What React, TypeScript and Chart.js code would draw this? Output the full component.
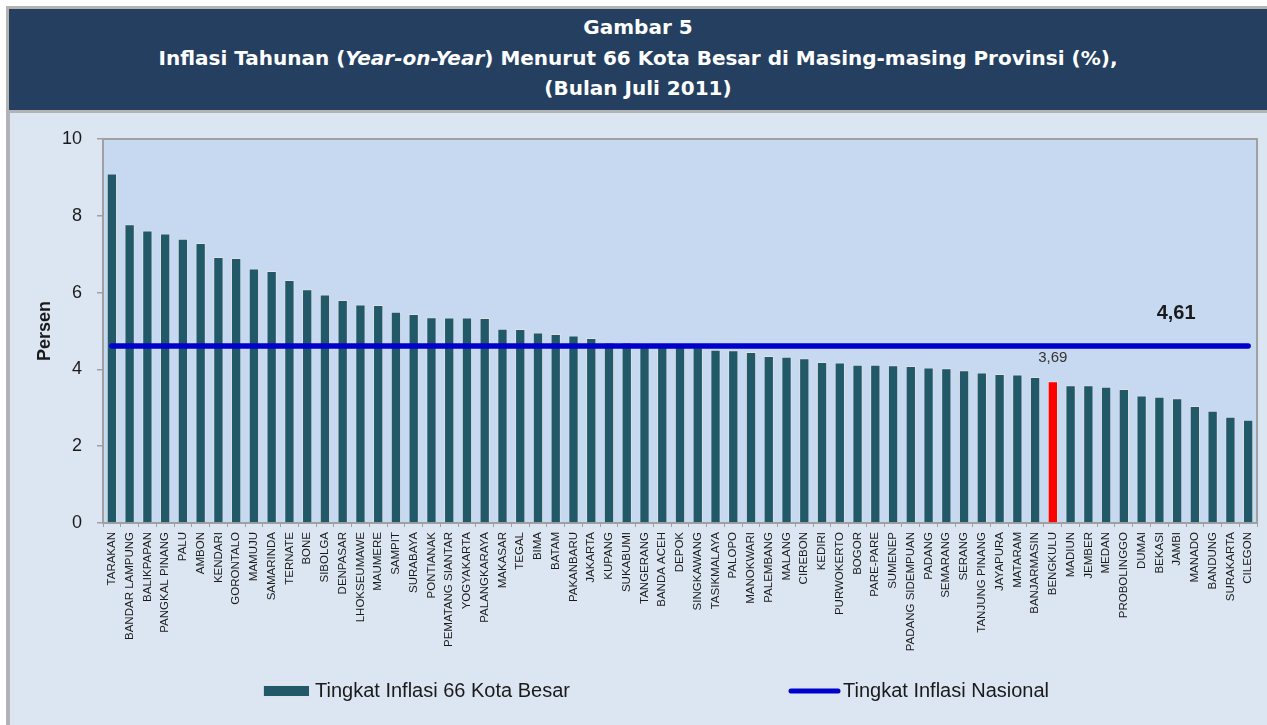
import React, { useEffect, useRef } from 'react';
import { Chart, registerables } from 'chart.js';

Chart.register(...registerables);

// ---------------- DATA ----------------
const cities: string[] = [
  'TARAKAN', 'BANDAR LAMPUNG', 'BALIKPAPAN', 'PANGKAL PINANG', 'PALU', 'AMBON', 'KENDARI',
  'GORONTALO', 'MAMUJU', 'SAMARINDA', 'TERNATE', 'BONE', 'SIBOLGA', 'DENPASAR', 'LHOKSEUMAWE',
  'MAUMERE', 'SAMPIT', 'SURABAYA', 'PONTIANAK', 'PEMATANG SIANTAR', 'YOGYAKARTA', 'PALANGKARAYA',
  'MAKASAR', 'TEGAL', 'BIMA', 'BATAM', 'PAKANBARU', 'JAKARTA', 'KUPANG', 'SUKABUMI', 'TANGERANG',
  'BANDA ACEH', 'DEPOK', 'SINGKAWANG', 'TASIKMALAYA', 'PALOPO', 'MANOKWARI', 'PALEMBANG', 'MALANG',
  'CIREBON', 'KEDIRI', 'PURWOKERTO', 'BOGOR', 'PARE-PARE', 'SUMENEP', 'PADANG SIDEMPUAN', 'PADANG',
  'SEMARANG', 'SERANG', 'TANJUNG PINANG', 'JAYAPURA', 'MATARAM', 'BANJARMASIN', 'BENGKULU', 'MADIUN',
  'JEMBER', 'MEDAN', 'PROBOLINGGO', 'DUMAI', 'BEKASI', 'JAMBI', 'MANADO', 'BANDUNG', 'SURAKARTA',
  'CILEGON',
];

const inflation: number[] = [
  9.10, 7.78, 7.62, 7.54, 7.40, 7.29, 6.93,
  6.90, 6.63, 6.56, 6.33, 6.09, 5.95, 5.81, 5.69,
  5.68, 5.50, 5.44, 5.36, 5.35, 5.35, 5.34,
  5.06, 5.05, 4.96, 4.92, 4.88, 4.82, 4.70, 4.70, 4.68,
  4.64, 4.61, 4.58, 4.51, 4.50, 4.45, 4.35, 4.33,
  4.29, 4.19, 4.18, 4.12, 4.12, 4.11, 4.09, 4.05,
  4.03, 3.98, 3.92, 3.88, 3.87, 3.80, 3.69, 3.59,
  3.59, 3.55, 3.49, 3.32, 3.29, 3.25, 3.05, 2.92, 2.77,
  2.69,
];

const highlightCity = 'BENGKULU';
const highlightLabel = '3,69';
const nationalRate = 4.61;
const nationalLabel = '4,61';
const yTickValues: number[] = [0, 2, 4, 6, 8, 10];
const yAxisTitle = 'Persen';
const legendLabels: string[] = ['Tingkat Inflasi 66 Kota Besar', 'Tingkat Inflasi Nasional'];
const titleLine1 = 'Gambar 5';
const titleLine2a = 'Inflasi Tahunan (';
const titleLine2i = 'Year-on-Year)';
const titleLine2b = ' Menurut 66 Kota Besar di Masing-masing Provinsi (%),';
const titleLine3 = '(Bulan Juli 2011)';

// ---------------- STYLE ----------------
const BAR_COLOR = '#215968';
const HIGHLIGHT_COLOR = '#ff0000';
const LINE_COLOR = '#0000cc';
const PLOT_BG = '#c6d9f0';
const OUTER_BG = '#dce6f2';
const FRAME_GRAY = '#b3b3b3';
const NAVY = '#243f60';
const FONT = '"Liberation Sans", Arial, Helvetica, sans-serif';

const decorPlugin = {
  id: 'decor',
  beforeDatasetsDraw(chart: any) {
    const { ctx, chartArea: a } = chart;
    ctx.save();
    ctx.fillStyle = PLOT_BG;
    ctx.fillRect(a.left, a.top, a.right - a.left, a.bottom - a.top);
    ctx.strokeStyle = '#a0a0a0';
    ctx.lineWidth = 2;
    ctx.strokeRect(a.left, a.top, a.right - a.left, a.bottom - a.top);
    ctx.restore();
  },
  afterDatasetsDraw(chart: any) {
    const { ctx } = chart;
    const xs = chart.scales.x;
    const ys = chart.scales.y;
    ctx.save();
    const hi = cities.indexOf(highlightCity);
    ctx.font = `15px ${FONT}`;
    ctx.fillStyle = '#333333';
    ctx.textAlign = 'center';
    ctx.textBaseline = 'middle';
    ctx.fillText(highlightLabel, xs.getPixelForValue(hi), ys.getPixelForValue(inflation[hi]) - 23);
    ctx.font = `bold 20px ${FONT}`;
    ctx.fillStyle = '#1a1a1a';
    ctx.fillText(nationalLabel, xs.getPixelForValue(cities.length - 1) - 72, ys.getPixelForValue(nationalRate) - 32);
    ctx.restore();
  },
  afterDraw(chart: any) {
    const { ctx } = chart;
    const ly = 578;
    ctx.save();
    ctx.fillStyle = BAR_COLOR;
    ctx.fillRect(253, ly - 5, 46, 10);
    ctx.strokeStyle = 'rgba(225,225,225,0.9)';
    ctx.lineWidth = 1;
    ctx.strokeRect(253.5, ly - 5.5, 46, 11);
    ctx.font = `20px ${FONT}`;
    ctx.fillStyle = '#1a1a1a';
    ctx.textAlign = 'left';
    ctx.textBaseline = 'middle';
    ctx.fillText(legendLabels[0], 305, ly);
    ctx.strokeStyle = LINE_COLOR;
    ctx.lineWidth = 5;
    ctx.lineCap = 'round';
    ctx.beginPath();
    ctx.moveTo(781, ly);
    ctx.lineTo(828, ly);
    ctx.stroke();
    ctx.fillText(legendLabels[1], 833, ly);
    ctx.restore();
  },
};

function ChartCanvas() {
  const ref = useRef<HTMLCanvasElement | null>(null);
  useEffect(() => {
    if (!ref.current) return;
    const chart = new Chart(ref.current, {
      type: 'bar',
      data: {
        labels: cities,
        datasets: [
          {
            type: 'line',
            label: legendLabels[1],
            data: [
              { x: cities[0], y: nationalRate },
              { x: cities[cities.length - 1], y: nationalRate },
            ] as any,
            borderColor: LINE_COLOR,
            borderWidth: 5.5,
            borderCapStyle: 'round',
            pointRadius: 0,
            fill: false,
            order: 0,
          } as any,
          {
            type: 'bar',
            label: legendLabels[0],
            data: inflation,
            backgroundColor: cities.map((c) => (c === highlightCity ? HIGHLIGHT_COLOR : BAR_COLOR)),
            borderColor: 'rgba(225,225,225,0.9)',
            borderWidth: 1,
            barPercentage: 0.58,
            categoryPercentage: 1,
            order: 1,
          } as any,
        ],
      },
      options: {
        responsive: false,
        animation: false,
        devicePixelRatio: 1,
        layout: { padding: { top: 26, right: 7, left: 0, bottom: 0 } },
        plugins: {
          legend: { display: false },
          tooltip: { enabled: false },
          title: { display: false },
        },
        scales: {
          x: {
            type: 'category',
            offset: true,
            grid: {
              display: true,
              offset: true,
              drawOnChartArea: false,
              drawTicks: true,
              tickLength: 4,
              color: '#a0a0a0',
            },
            border: { display: false },
            ticks: {
              autoSkip: false,
              minRotation: 90,
              maxRotation: 90,
              padding: 5,
              color: '#1a1a1a',
              font: { family: FONT, size: 11.5 },
            },
            afterFit: (s: any) => {
              s.height = 202;
            },
          },
          y: {
            min: 0,
            max: 10,
            afterBuildTicks: (s: any) => {
              s.ticks = yTickValues.map((v) => ({ value: v }));
            },
            grid: {
              display: true,
              drawOnChartArea: false,
              drawTicks: true,
              tickLength: 6,
              color: '#a0a0a0',
              lineWidth: 1.5,
            },
            border: { display: false },
            ticks: {
              padding: 15,
              color: '#1a1a1a',
              font: { family: FONT, size: 18 },
            },
            title: {
              display: true,
              text: yAxisTitle,
              color: '#1a1a1a',
              font: { family: FONT, size: 18, weight: 'bold' },
              padding: { top: 24, bottom: 0 },
            },
            afterFit: (s: any) => {
              s.width = 93;
            },
          },
        },
      },
      plugins: [decorPlugin],
    });
    return () => chart.destroy();
  }, []);
  return <canvas ref={ref} width={1257} height={612} style={{ display: 'block' }} />;
}

export default function App() {
  return (
    <div style={{ position: 'absolute', left: 0, top: 0, width: 1267, height: 725, background: '#ffffff', overflow: 'hidden' }}>
      <div style={{ position: 'absolute', left: 6, top: 6, width: 1261, height: 719, background: FRAME_GRAY }} />
      <div
        style={{
          position: 'absolute',
          left: 9,
          top: 9,
          width: 1258,
          height: 101,
          background: NAVY,
          color: '#ffffff',
          fontFamily: '"DejaVu Sans", Verdana, sans-serif',
          fontWeight: 'bold',
          fontSize: 20,
          lineHeight: '30.5px',
          textAlign: 'center',
          paddingTop: 3,
          boxSizing: 'border-box',
        }}
      >
        <div>{titleLine1}</div>
        <div>
          {titleLine2a}
          <i>{titleLine2i.slice(0, -1)}</i>
          {titleLine2i.slice(-1)}
          {titleLine2b}
        </div>
        <div>{titleLine3}</div>
      </div>
      <div style={{ position: 'absolute', left: 10, top: 113, width: 1257, height: 612, background: OUTER_BG }}>
        <ChartCanvas />
      </div>
    </div>
  );
}
